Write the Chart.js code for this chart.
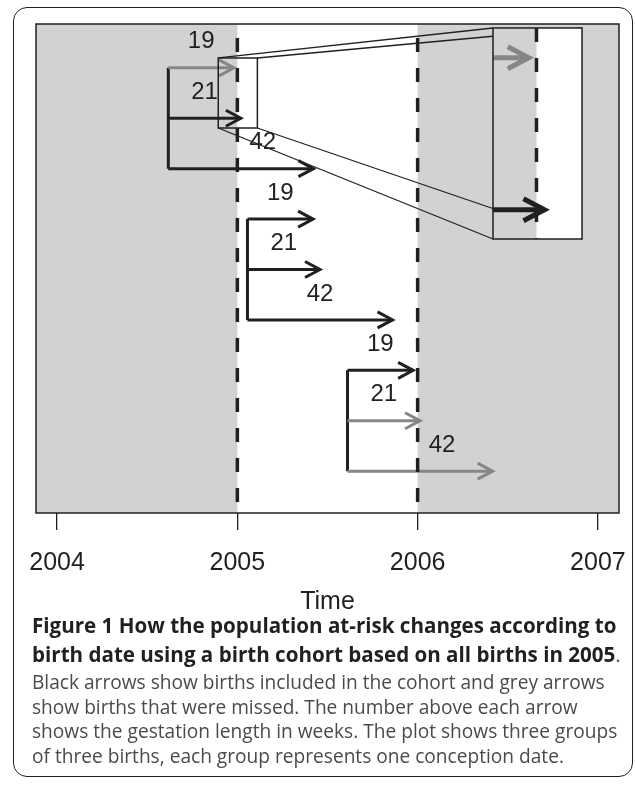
<!DOCTYPE html>
<html>
<head>
<meta charset="utf-8">
<script src="https://cdn.jsdelivr.net/npm/chart.js@4.4.0/dist/chart.umd.min.js"></script>
<style>
  body { margin: 0; background: #fff; width: 635px; height: 786px; position: relative; overflow: hidden; }
  #frame { position: absolute; left: 13px; top: 7px; width: 620px; height: 770px; border: 1.4px solid #231f20;
           border-radius: 14px; box-sizing: border-box; }
  #wrap { position: absolute; left: 0; top: 0; width: 635px; height: 620px; }
  .cap { position: absolute; left: 32px; white-space: nowrap; font-family: "Open Sans", sans-serif; line-height: 24px; }
  .b { font-weight: 700; color: #231f20; }
  .n { color: #4a4a4a; }
</style>
</head>
<body>
<div id="frame"></div>
<div id="wrap"><canvas id="chart" width="635" height="620"></canvas></div>
<div class="cap b" id="b1" style="top:613px">Figure 1 How the population at-risk changes according to</div>
<div class="cap b" id="b2" style="top:642px">birth date using a birth cohort based on all births in 2005<span class="n" style="font-weight:400">.</span></div>
<div class="cap n" id="n1" style="top:670px">Black arrows show births included in the cohort and grey arrows</div>
<div class="cap n" id="n2" style="top:694.5px">show births that were missed. The number above each arrow</div>
<div class="cap n" id="n3" style="top:719px">shows the gestation length in weeks. The plot shows three groups</div>
<div class="cap n" id="n4" style="top:743.5px">of three births, each group represents one conception date.</div>
<script>
// tick labels on the time axis
const tickYears = [2004, 2005, 2006, 2007];
// the birth cohort: everyone born in 2005
const cohortStart = 2005;
const cohortEnd = 2006;
// one conception date per group (decimal years)
const conceptions = [2004.617, 2005.056, 2005.611];
// gestation lengths (weeks) of the three births in each group
const gestationWeeks = [19, 21, 42];

// zoomed detail: source window and where it is blown up (data units)
const zoomFrom = { x0: 2004.894, x1: 2005.111, y0: 0.804, y1: 2.193 };
const zoomTo = { x0: 2006.418, x1: 2006.912, y0: 0.209, y1: 4.395 };

const BLACK = '#231f20';
const GREY = '#868686';
const SHADE = '#d1d2d4';

const datasets = [];

// cohort cut-offs, dashed
[cohortStart, cohortEnd].forEach(v => {
    datasets.push({
        data: [{ x: v, y: 0.13 }, { x: v, y: 9.83 }],
        borderColor: BLACK, borderWidth: 3.5,
        borderDash: [14, 16], borderDashOffset: 16
    });
});

conceptions.forEach((c, g) => {
    gestationWeeks.forEach((w, b) => {
        const birth = c + w * 7 / 365.25;
        const inCohort = birth >= cohortStart && birth < cohortEnd;
        datasets.push({
            data: [{ x: c, y: g * 3 + b + 1 }, { x: birth, y: g * 3 + b + 1 }],
            borderColor: inCohort ? BLACK : GREY, borderWidth: 3,
            arrow: true, weeks: w
        });
    });
    // stem joining the group's births
    datasets.push({
        data: [{ x: c, y: g * 3 + 1 }, { x: c, y: g * 3 + 3 }],
        borderColor: BLACK, borderWidth: 3
    });
});

datasets.forEach(d => {
    d.pointRadius = 0;
    d.pointHoverRadius = 0;
    d.fill = false;
    d.tension = 0;
    d.borderCapStyle = 'butt';
});

function head(ctx, x, y, len, half, lw, color) {
    ctx.save();
    ctx.strokeStyle = color;
    ctx.lineWidth = lw;
    ctx.lineJoin = 'miter';
    ctx.lineCap = 'butt';
    ctx.setLineDash([]);
    ctx.beginPath();
    ctx.moveTo(x - len, y - half);
    ctx.lineTo(x, y);
    ctx.lineTo(x - len, y + half);
    ctx.stroke();
    ctx.restore();
}

const shading = {
    id: 'shading',
    beforeDatasetsDraw(chart) {
        const { ctx, chartArea: a, scales: { x } } = chart;
        ctx.save();
        ctx.fillStyle = SHADE;
        ctx.fillRect(a.left, a.top, a.right - a.left, a.bottom - a.top);
        ctx.fillStyle = '#fff';
        const l = x.getPixelForValue(cohortStart), r = x.getPixelForValue(cohortEnd);
        ctx.fillRect(l, a.top, r - l, a.bottom - a.top);
        ctx.restore();
    }
};

const arrows = {
    id: 'arrows',
    afterDatasetsDraw(chart) {
        const { ctx, scales: { x, y } } = chart;
        const cuts = [x.getPixelForValue(cohortStart), x.getPixelForValue(cohortEnd)];
        chart.data.datasets.forEach(d => {
            if (!d.arrow) return;
            const x0 = x.getPixelForValue(d.data[0].x);
            const x1 = x.getPixelForValue(d.data[1].x);
            const py = y.getPixelForValue(d.data[1].y);
            head(ctx, x1, py, 15, 8, 3, d.borderColor);
            let lx = (x0 + x1) / 2;
            if (cuts.some(c => Math.abs(c - lx) < 12)) lx += 22;
            ctx.save();
            ctx.fillStyle = BLACK;
            ctx.font = '24px "Liberation Sans", Arial, sans-serif';
            ctx.textAlign = 'center';
            ctx.textBaseline = 'middle';
            ctx.fillText(String(d.weeks), lx, py - 26);
            ctx.restore();
        });
    }
};

const zoomInset = {
    id: 'zoomInset',
    afterDatasetsDraw(chart) {
        const { ctx, scales: { x, y } } = chart;
        const s = { l: x.getPixelForValue(zoomFrom.x0), r: x.getPixelForValue(zoomFrom.x1),
                    t: y.getPixelForValue(zoomFrom.y0), b: y.getPixelForValue(zoomFrom.y1) };
        const d = { l: x.getPixelForValue(zoomTo.x0), r: x.getPixelForValue(zoomTo.x1),
                    t: y.getPixelForValue(zoomTo.y0), b: y.getPixelForValue(zoomTo.y1) };
        const mx = px => d.l + (px - s.l) / (s.r - s.l) * (d.r - d.l);
        const my = py => d.t + (py - s.t) / (s.b - s.t) * (d.b - d.t);

        ctx.save();
        ctx.setLineDash([]);
        ctx.strokeStyle = BLACK;
        ctx.lineWidth = 1.3;
        // corner-to-corner guide lines
        ctx.beginPath();
        [[s.l, s.t, d.l, d.t], [s.r, s.t, d.r, d.t], [s.l, s.b, d.l, d.b], [s.r, s.b, d.r, d.b]].forEach(p => {
            ctx.moveTo(p[0], p[1]);
            ctx.lineTo(p[2], p[3]);
        });
        ctx.stroke();

        // blown-up background
        ctx.fillStyle = SHADE;
        ctx.fillRect(d.l, d.t, d.r - d.l, d.b - d.t);
        const wl = Math.max(d.l, mx(x.getPixelForValue(cohortStart)));
        const wr = Math.min(d.r, mx(x.getPixelForValue(cohortEnd)));
        ctx.fillStyle = '#fff';
        if (wr > wl) ctx.fillRect(wl, d.t, wr - wl, d.b - d.t);

        ctx.beginPath();
        ctx.rect(d.l, d.t, d.r - d.l, d.b - d.t);
        ctx.clip();

        const cx = mx(x.getPixelForValue(cohortStart));
        ctx.strokeStyle = BLACK;
        ctx.lineWidth = 3.5;
        ctx.setLineDash([14, 16]);
        ctx.beginPath();
        ctx.moveTo(cx, d.t);
        ctx.lineTo(cx, d.b);
        ctx.stroke();
        ctx.setLineDash([]);

        chart.data.datasets.forEach(ds => {
            if (!ds.arrow) return;
            const py = y.getPixelForValue(ds.data[0].y);
            if (py < s.t || py > s.b) return;
            const a0 = Math.max(mx(x.getPixelForValue(ds.data[0].x)), d.l);
            const a1 = mx(x.getPixelForValue(ds.data[1].x));
            const yy = my(py);
            ctx.strokeStyle = ds.borderColor;
            ctx.lineWidth = 5;
            ctx.beginPath();
            ctx.moveTo(a0, yy);
            ctx.lineTo(a1, yy);
            ctx.stroke();
            head(ctx, a1, yy, 21, 11, 5, ds.borderColor);
        });
        ctx.restore();

        ctx.save();
        ctx.strokeStyle = BLACK;
        ctx.lineWidth = 1.5;
        ctx.strokeRect(d.l, d.t, d.r - d.l, d.b - d.t);
        ctx.strokeRect(s.l, s.t, s.r - s.l, s.b - s.t);
        ctx.restore();
    }
};

const frameBox = {
    id: 'frameBox',
    afterDraw(chart) {
        const { ctx, chartArea: a } = chart;
        ctx.save();
        ctx.strokeStyle = BLACK;
        ctx.lineWidth = 1.5;
        ctx.setLineDash([]);
        ctx.strokeRect(a.left, a.top, a.right - a.left, a.bottom - a.top);
        ctx.restore();
    }
};

new Chart(document.getElementById('chart'), {
    type: 'line',
    data: { datasets },
    options: {
        responsive: false,
        animation: false,
        events: [],
        layout: { padding: { left: 36, right: 16, top: 24, bottom: 0 } },
        plugins: { legend: { display: false }, tooltip: { enabled: false } },
        scales: {
            x: {
                type: 'linear',
                min: 2003.883,
                max: 2007.117,
                afterBuildTicks: scale => { scale.ticks = tickYears.map(v => ({ value: v })); },
                afterFit: scale => {
                    scale.height = 107;
                    scale.paddingLeft = 0;
                    scale.paddingRight = 0;
                },
                ticks: {
                    color: BLACK,
                    padding: 18,
                    maxRotation: 0,
                    autoSkip: false,
                    font: { family: '"Liberation Sans", Arial, sans-serif', size: 25 },
                    callback: v => String(v)
                },
                grid: { drawOnChartArea: false, drawTicks: true, tickLength: 17, color: BLACK, lineWidth: 1.3 },
                border: { display: false },
                title: {
                    display: true, text: 'Time', color: BLACK,
                    font: { family: '"Liberation Sans", Arial, sans-serif', size: 25 },
                    padding: { top: 0, bottom: 3 }
                }
            },
            y: { type: 'linear', display: false, reverse: true, min: 0.13, max: 9.83 }
        }
    },
    plugins: [shading, arrows, zoomInset, frameBox]
});

// fit caption lines to the measured widths
function fitTo(id, target, others) {
    const el = document.getElementById(id);
    const w = el.getBoundingClientRect().width;
    const fs = parseFloat(getComputedStyle(el).fontSize);
    const size = (fs * target / w) + 'px';
    el.style.fontSize = size;
    others.forEach(o => { document.getElementById(o).style.fontSize = size; });
}
fitTo('b1', 585, ['b2']);
fitTo('n1', 573, ['n2', 'n3', 'n4']);
</script>
</body>
</html>
